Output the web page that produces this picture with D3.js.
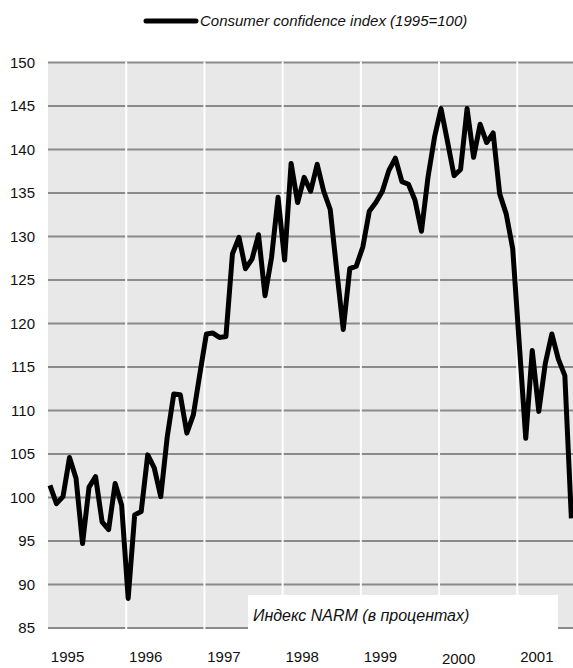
<!DOCTYPE html>
<html>
<head>
<meta charset="utf-8">
<script src="https://cdn.jsdelivr.net/npm/d3@7"></script>
<style>
  body { margin: 0; background: #fff; }
  svg { display: block; font-family: "Liberation Sans", Arial, sans-serif; }
</style>
</head>
<body>
<svg id="chart"></svg>
<script>
// monthly index, Jan 1995 .. Sep 2001 (1995=100)
const years = [1995, 1996, 1997, 1998, 1999, 2000, 2001];
const values = [
  101.4, 99.3, 100.1, 104.6, 102.2, 94.7, 101.2, 102.4, 97.2, 96.3, 101.6, 99.1,
  88.4, 98.0, 98.4, 104.9, 103.4, 100.1, 107.0, 111.9, 111.8, 107.4, 109.5, 114.2,
  118.8, 118.9, 118.4, 118.5, 128.0, 129.9, 126.3, 127.4, 130.2, 123.2, 127.6, 134.5,
  127.3, 138.4, 133.9, 136.8, 135.2, 138.3, 135.2, 133.1, 126.1, 119.3, 126.3, 126.6,
  128.8, 132.9, 133.9, 135.2, 137.6, 139.0, 136.3, 136.0, 134.2, 130.6, 136.8, 141.4,
  144.7, 140.9, 137.0, 137.7, 144.7, 139.1, 142.9, 140.8, 141.9, 134.9, 132.6, 128.6,
  117.7, 106.8, 116.9, 109.9, 115.4, 118.8, 115.9, 114.0, 97.6
];
const yTicks = [85, 90, 95, 100, 105, 110, 115, 120, 125, 130, 135, 140, 145, 150];
const seriesLabel = "Consumer confidence index (1995=100)";
const noteLabel = "Индекс NARM (в процентах)";

const config = {
  width: 573, height: 668,
  left: 48, right: 573, top: 62.5, bottom: 628
};

const svg = d3.select("#chart")
  .attr("width", config.width)
  .attr("height", config.height);

// months since Jan 1995
const x = d3.scaleLinear()
  .domain([0, 80.55])
  .range([config.left, config.right]);

const y = d3.scaleLinear()
  .domain([85, 150])
  .range([config.bottom, config.top]);

// plot background
svg.append("rect")
  .attr("x", config.left)
  .attr("y", config.top)
  .attr("width", config.right - config.left)
  .attr("height", config.bottom - config.top)
  .attr("fill", "#e8e8e8");

// horizontal grid
svg.append("g")
  .selectAll("line")
  .data(yTicks)
  .join("line")
    .attr("x1", config.left)
    .attr("x2", config.right)
    .attr("y1", d => y(d))
    .attr("y2", d => y(d))
    .attr("stroke", "#8a8a8a")
    .attr("stroke-width", 2);

// year separators (white)
svg.append("g")
  .selectAll("line")
  .data(years.slice(1))
  .join("line")
    .attr("x1", d => x((d - 1995) * 12))
    .attr("x2", d => x((d - 1995) * 12))
    .attr("y1", config.top - 1)
    .attr("y2", config.bottom + 1)
    .attr("stroke", "#fff")
    .attr("stroke-width", 2);

// y axis labels
svg.append("g")
  .selectAll("text")
  .data(yTicks)
  .join("text")
    .attr("x", 35)
    .attr("y", d => y(d))
    .attr("dy", "0.35em")
    .attr("text-anchor", "end")
    .style("font-size", "15px")
    .attr("fill", "#111")
    .text(d => d);

// year labels
svg.append("g")
  .selectAll("text")
  .data(years)
  .join("text")
    .attr("x", d => x((d - 1995) * 12 + 3))
    .attr("y", d => d === 2000 ? 664 : 662)
    .attr("text-anchor", "middle")
    .style("font-size", "15px")
    .attr("fill", "#111")
    .text(d => d);

// the series
const line = d3.line()
  .x((d, i) => x(i + 0.3))
  .y(d => y(d));

svg.append("path")
  .datum(values)
  .attr("d", line)
  .attr("fill", "none")
  .attr("stroke", "#000")
  .attr("stroke-width", 5)
  .attr("stroke-linejoin", "round")
  .attr("stroke-linecap", "butt");

// note box
svg.append("rect")
  .attr("x", 248)
  .attr("y", 595)
  .attr("width", 310)
  .attr("height", 37)
  .attr("fill", "#fff");

svg.append("text")
  .attr("x", 253)
  .attr("y", 621)
  .style("font-size", "16px")
  .style("font-style", "italic")
  .attr("fill", "#111")
  .text(noteLabel);

// legend
svg.append("line")
  .attr("x1", 146).attr("x2", 196)
  .attr("y1", 21).attr("y2", 21)
  .attr("stroke", "#000")
  .attr("stroke-width", 5)
  .attr("stroke-linecap", "round");

svg.append("text")
  .attr("x", 200)
  .attr("y", 26)
  .style("font-size", "15px")
  .style("font-style", "italic")
  .attr("fill", "#111")
  .text(seriesLabel);
</script>
</body>
</html>
